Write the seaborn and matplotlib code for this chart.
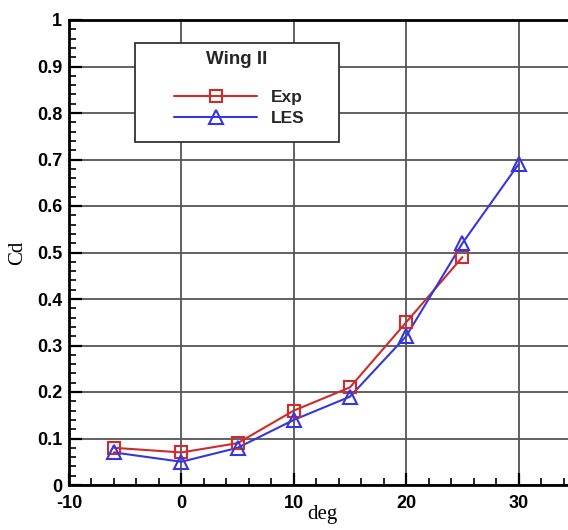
import matplotlib
matplotlib.use("Agg")
import matplotlib.pyplot as plt
from matplotlib.lines import Line2D
from matplotlib.patches import Rectangle
from matplotlib.ticker import MultipleLocator
import pandas as pd
import seaborn as sns

# Drag coefficient versus angle of attack
exp_deg = [-6, 0, 5, 10, 15, 20, 25]
exp_cd = [0.08, 0.07, 0.09, 0.16, 0.21, 0.35, 0.49]
les_deg = [-6, 0, 5, 10, 15, 20, 25, 30]
les_cd = [0.07, 0.05, 0.08, 0.14, 0.19, 0.32, 0.52, 0.69]

series_names = ["Exp", "LES"]
series_colors = ["#d02a2a", "#3636e0"]
series_markers = ["s", "^"]
legend_title = "Wing II"

x_ticks = [-10, 0, 10, 20, 30]
x_tick_labels = ["-10", "0", "10", "20", "30"]
y_ticks = [0, 0.1, 0.2, 0.3, 0.4, 0.5, 0.6, 0.7, 0.8, 0.9, 1.0]
y_tick_labels = ["0", "0.1", "0.2", "0.3", "0.4", "0.5", "0.6", "0.7", "0.8", "0.9", "1"]

sns.set_theme(style="white")
plt.rcParams["font.family"] = ["Liberation Sans", "DejaVu Sans"]

W, H = 568, 530
fig = plt.figure(figsize=(W / 100, H / 100), dpi=100)
ax = fig.add_axes([69 / W, 45 / H, 505.8 / W, 465 / H])

frames = [
    pd.DataFrame({"deg": exp_deg, "Cd": exp_cd}),
    pd.DataFrame({"deg": les_deg, "Cd": les_cd}),
]

for df, color, marker in zip(frames, series_colors, series_markers):
    sns.lineplot(data=df, x="deg", y="Cd", ax=ax, color=color, lw=1.5,
                 estimator=None, sort=False, zorder=4)
    sns.lineplot(data=df, x="deg", y="Cd", ax=ax, color=color, linestyle="",
                 marker=marker, markersize=9 if marker == "s" else 10,
                 markerfacecolor="none", markeredgecolor=color,
                 markeredgewidth=1.5, estimator=None, sort=False, zorder=5)

ax.set_xlim(-10, 35)
ax.set_ylim(0, 1)
ax.set_xticks(x_ticks)
ax.set_xticklabels(x_tick_labels)
ax.set_yticks(y_ticks)
ax.set_yticklabels(y_tick_labels)
ax.xaxis.set_minor_locator(MultipleLocator(2))
ax.yaxis.set_minor_locator(MultipleLocator(0.02))

ax.tick_params(which="major", direction="in", length=9, width=1.6,
               color="black", labelsize=13, labelcolor="black", pad=5,
               bottom=True, left=True, top=False, right=False)
ax.tick_params(axis="x", which="major", pad=7)
ax.tick_params(which="minor", direction="in", length=5, width=1.2,
               color="black", bottom=True, left=True, top=False, right=False)
for lab in ax.get_xticklabels() + ax.get_yticklabels():
    lab.set_fontweight("bold")

ax.grid(True, which="major", color="#555555", lw=1.3)
ax.set_axisbelow(True)
for side in ["left", "bottom", "top", "right"]:
    ax.spines[side].set_color("black")
    ax.spines[side].set_linewidth(2)

ax.set_xlabel("deg", family="Liberation Serif", fontsize=15, color="black")
ax.xaxis.set_label_coords(0.5, -0.042)
ax.set_ylabel("Cd", family="Liberation Serif", fontsize=15, color="black",
              labelpad=7)

# Legend frame and title
ax_x = lambda px: (px - 69) / 505.8
ax_y = lambda py: (485 - py) / 465
box = Rectangle((ax_x(135), ax_y(142)), 204 / 505.8, 99 / 465,
                transform=ax.transAxes, facecolor="white", edgecolor="#333333",
                lw=1.3, zorder=3)
ax.add_patch(box)
ax.text(ax_x(237), ax_y(60), legend_title, transform=ax.transAxes,
        ha="center", va="center", fontsize=13.5, fontweight="bold", zorder=6)

handles = [
    Line2D([], [], color=c, lw=1.5, marker=m,
           markersize=9 if m == "s" else 10, markerfacecolor="none",
           markeredgecolor=c, markeredgewidth=1.5)
    for c, m in zip(series_colors, series_markers)
]
leg = ax.legend(handles, series_names, loc="center left",
                bbox_to_anchor=(ax_x(174), ax_y(108)), frameon=False,
                borderpad=0, borderaxespad=0, handlelength=4.8,
                handletextpad=0.8, labelspacing=0.35,
                prop={"weight": "bold", "size": 12.5})
leg.set_zorder(6)

fig.savefig("out.png", dpi=100)
